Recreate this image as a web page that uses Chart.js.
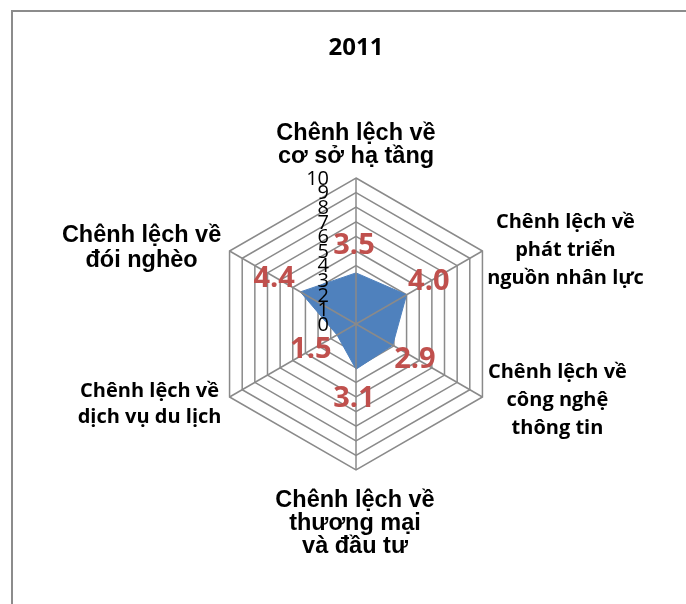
<!DOCTYPE html>
<html><head><meta charset="utf-8">
<style>html,body{margin:0;padding:0;background:#fff;}#wrap{width:686px;height:604px;position:relative;}</style>
<script src="https://cdn.jsdelivr.net/npm/chart.js@4/dist/chart.umd.min.js"></script>
</head><body><div id="wrap"><canvas id="c" width="686" height="604"></canvas></div>
<script>
const chartTitle = '2011';
const categories = [
  ['Chênh lệch về', 'cơ sở hạ tầng'],
  ['Chênh lệch về', 'phát triển', 'nguồn nhân lực'],
  ['Chênh lệch về', 'công nghệ', 'thông tin'],
  ['Chênh lệch về', 'thương mại', 'và đầu tư'],
  ['Chênh lệch về', 'dịch vụ du lịch'],
  ['Chênh lệch về', 'đói nghèo']
];
const values2011 = [3.5, 4.0, 2.9, 3.1, 1.5, 4.4];
const tickValues = [0, 1, 2, 3, 4, 5, 6, 7, 8, 9, 10];

const ARIAL = '"Liberation Sans", Arial, sans-serif';
const CAL = '"Open Sans", Lato, sans-serif';
const GRID = '#8a8a8a';
const labelStyle = [
  {font: `bold 23.5px ${ARIAL}`, dx: 0, dy: -38, lh: 23},
  {font: `bold 20px ${CAL}`, dx: 83, dy: -23, lh: 28},
  {font: `bold 20px ${CAL}`, dx: 75, dy: -19, lh: 28},
  {font: `bold 23.5px ${ARIAL}`, dx: -1, dy: 37, lh: 23},
  {font: `bold 20px ${CAL}`, dx: -80, dy: 0, lh: 26},
  {font: `bold 23.5px ${ARIAL}`, dx: -88, dy: -9, lh: 25}
];

const custom = {
  id: 'custom',
  beforeDraw(chart) {
    const ctx = chart.ctx;
    ctx.save();
    ctx.fillStyle = '#fff';
    ctx.fillRect(0, 0, chart.width, chart.height);
    ctx.restore();
  },
  afterDatasetsDraw(chart) {
    const ctx = chart.ctx;
    const s = chart.scales.r;
    ctx.save();
    // angle lines over the fill
    ctx.strokeStyle = GRID;
    ctx.lineWidth = 1.5;
    categories.forEach((c, i) => {
      const p = s.getPointPosition(i, s.drawingArea);
      ctx.beginPath();
      ctx.moveTo(s.xCenter, s.yCenter);
      ctx.lineTo(p.x, p.y);
      ctx.stroke();
    });
    // tick labels
    ctx.fillStyle = '#000';
    ctx.font = `20px ${CAL}`;
    ctx.textAlign = 'right';
    ctx.textBaseline = 'middle';
    tickValues.forEach(v => {
      const y = s.yCenter - s.getDistanceFromCenterForValue(v);
      ctx.fillText(String(v), s.xCenter - 27, y + 1);
    });
    // category labels
    ctx.textAlign = 'center';
    ctx.textBaseline = 'alphabetic';
    categories.forEach((lines, i) => {
      const st = labelStyle[i];
      const p = s.getPointPosition(i, s.drawingArea);
      ctx.font = st.font;
      lines.forEach((t, k) => ctx.fillText(t, p.x + st.dx, p.y + st.dy + k * st.lh));
    });
    // data labels
    const meta = chart.getDatasetMeta(0);
    ctx.fillStyle = '#C0504D';
    ctx.font = `bold 29px ${CAL}`;
    ctx.textBaseline = 'middle';
    meta.data.forEach((el, i) => {
      const dx = el.x - s.xCenter, dy = el.y - s.yCenter;
      const len = Math.hypot(dx, dy) || 1;
      ctx.fillText(values2011[i].toFixed(1), el.x + dx / len * 28 - 2, el.y + dy / len * 28 + 1);
    });
    // outer border
    ctx.strokeStyle = '#8c8c8c';
    ctx.lineWidth = 2;
    ctx.strokeRect(12, 11, 900, 900);
    ctx.restore();
  }
};

new Chart(document.getElementById('c'), {
  type: 'radar',
  data: {
    labels: categories,
    datasets: [{
      label: chartTitle,
      data: values2011,
      backgroundColor: '#4F81BD',
      borderColor: '#4F81BD',
      borderWidth: 1,
      pointRadius: 0,
      fill: true
    }]
  },
  options: {
    responsive: false,
    animation: false,
    devicePixelRatio: 1,
    layout: {padding: {left: 210, right: 184, top: 0, bottom: 134}},
    plugins: {
      legend: {display: false},
      tooltip: {enabled: false},
      title: {
        display: true,
        text: chartTitle,
        color: '#000',
        font: {family: 'Open Sans', weight: 'bold', size: 24, lineHeight: 1.2},
        padding: {top: 34, bottom: 115.2}
      }
    },
    scales: {
      r: {
        min: 0,
        max: 10,
        ticks: {display: false, stepSize: 1},
        pointLabels: {display: false},
        grid: {color: GRID, lineWidth: 1.5},
        angleLines: {display: false}
      }
    }
  },
  plugins: [custom]
});
</script></body></html>
